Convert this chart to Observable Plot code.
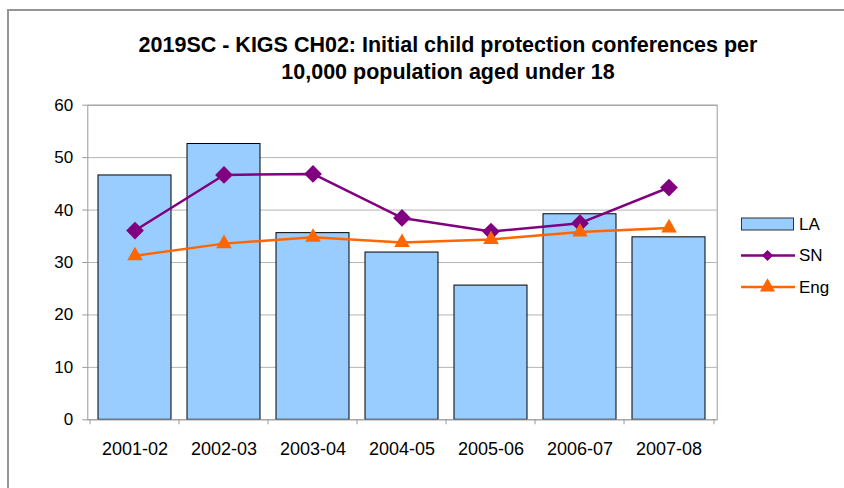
<!DOCTYPE html>
<html>
<head>
<meta charset="utf-8">
<script src="https://cdn.jsdelivr.net/npm/d3@7"></script>
<script src="https://cdn.jsdelivr.net/npm/@observablehq/plot@0.6"></script>
<style>
  html, body { margin: 0; padding: 0; background: #fff; overflow: hidden; }
  #wrap { position: relative; width: 844px; height: 488px; font-family: "Liberation Sans", Arial, sans-serif; }
  #border { position: absolute; left: 7px; top: 9px; width: 900px; height: 600px; border-top: 2px solid #959595; border-left: 2px solid #959595; }
  #title { position: absolute; left: 448px; top: 32px; transform: translateX(-50%); white-space: nowrap; text-align: center; font-weight: bold; font-size: 21.5px; line-height: 27px; color: #000; }
  #chart { position: absolute; left: 0; top: 0; }
  #legend { position: absolute; left: 741px; top: 210px; }
</style>
</head>
<body>
<div id="wrap">
  <div id="border"></div>
  <div id="chart"></div>
  <div id="title">2019SC - KIGS CH02: Initial child protection conferences per<br>10,000 population aged under 18</div>
  <div id="legend"></div>
</div>
<script>
const periods = ["2001-02", "2002-03", "2003-04", "2004-05", "2005-06", "2006-07", "2007-08"];
const laValues = [46.6, 52.6, 35.6, 31.9, 25.6, 39.2, 34.8];
const snValues = [36.1, 46.7, 46.9, 38.5, 35.9, 37.5, 44.3];
const engValues = [31.3, 33.6, 34.8, 33.8, 34.4, 35.8, 36.6];
const yTicks = [0, 10, 20, 30, 40, 50, 60];
const seriesNames = ["LA", "SN", "Eng"];

const rows = periods.map((p, i) => ({period: p, LA: laValues[i], SN: snValues[i], Eng: engValues[i]}));

const W = 844, H = 488, mL = 87.3, mR = 127.3, mT = 104.7, mB = 68.7;
const step = (W - mL - mR) / periods.length;
const barFill = "#99CCFF", snColor = "#800080", engColor = "#FF6600", axisGray = "#999999", gridGray = "#b4b4b4";

const chart = Plot.plot({
  width: W, height: H,
  marginLeft: mL, marginRight: mR, marginTop: mT, marginBottom: mB,
  style: {fontFamily: "'Liberation Sans', Arial, sans-serif", fontSize: "17px", color: "#000", background: "transparent", overflow: "visible"},
  x: {domain: periods, paddingInner: 0.175, paddingOuter: 0.0875, axis: null, label: null},
  y: {domain: [0, 60], axis: null, label: null},
  marks: [
    Plot.gridY(yTicks, {stroke: gridGray, strokeOpacity: 1, strokeWidth: 1}),
    Plot.barY(rows, {x: "period", y: "LA", fill: barFill, stroke: "#000", strokeWidth: 1}),
    Plot.frame({stroke: axisGray, strokeWidth: 1}),
    Plot.line(rows, {x: "period", y: "SN", stroke: snColor, strokeWidth: 2.5}),
    Plot.dot(rows, {x: "period", y: "SN", symbol: "diamond2", r: 8, fill: snColor, stroke: "none"}),
    Plot.line(rows, {x: "period", y: "Eng", stroke: engColor, strokeWidth: 2.5}),
    Plot.dot(rows, {x: "period", y: "Eng", symbol: "triangle", r: 5.8, fill: engColor, stroke: "none"}),
    Plot.axisY(yTicks, {tickSize: 5, text: null, stroke: axisGray, label: null}),
    Plot.axisY(yTicks, {tickSize: 0, tickPadding: 14.6, fill: "#000", fontSize: 17, label: null}),
    Plot.axisX(periods, {tickSize: 5, text: null, dx: -step / 2, stroke: axisGray, label: null}),
    Plot.axisX([periods[periods.length - 1]], {tickSize: 5, text: null, dx: step / 2, stroke: axisGray, label: null}),
    Plot.axisX(periods, {tickSize: 0, tickPadding: 22, fill: "#000", fontSize: 18, label: null})
  ]
});
document.getElementById("chart").appendChild(chart);

// Legend
const legendSeries = [
  {name: seriesNames[0], kind: "bar", color: barFill},
  {name: seriesNames[1], kind: "line", color: snColor, symbol: d3.symbolDiamond2, size: 80},
  {name: seriesNames[2], kind: "line", color: engColor, symbol: d3.symbolTriangle, size: 100}
];
const lg = d3.select("#legend").append("svg").attr("width", 100).attr("height", 90)
  .style("font-family", "'Liberation Sans', Arial, sans-serif").style("font-size", "17px").style("overflow", "visible");
legendSeries.forEach((s, i) => {
  const g = lg.append("g").attr("transform", `translate(0, ${14 + i * 31.5})`);
  if (s.kind === "bar") {
    g.append("rect").attr("x", 0.5).attr("y", -6).attr("width", 52).attr("height", 12).attr("fill", s.color).attr("stroke", "#333");
  } else {
    g.append("line").attr("x1", 0).attr("x2", 54).attr("y1", 0).attr("y2", 0).attr("stroke", s.color).attr("stroke-width", 2.5);
    g.append("path").attr("d", d3.symbol(s.symbol, s.size)()).attr("transform", "translate(26.5,0)").attr("fill", s.color);
  }
  g.append("text").attr("x", 58).attr("y", 0).attr("dy", "0.35em").attr("fill", "#000").text(s.name);
});
</script>
</body>
</html>
